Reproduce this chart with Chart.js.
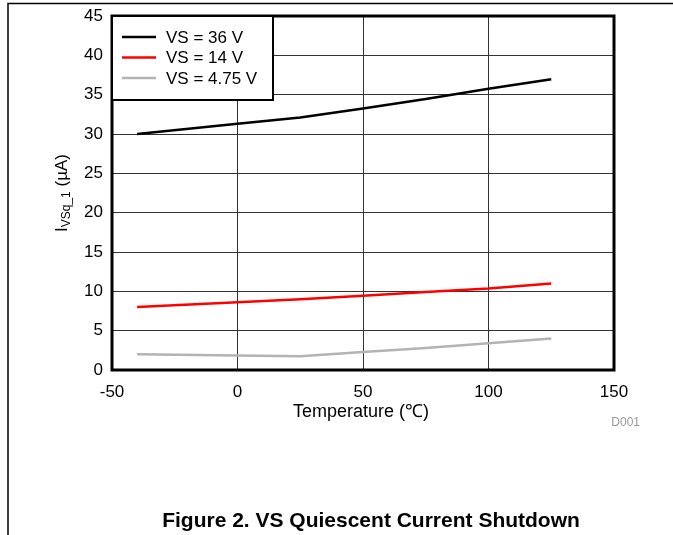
<!DOCTYPE html>
<html>
<head>
<meta charset="utf-8">
<script src="https://cdn.jsdelivr.net/npm/chart.js@4/dist/chart.umd.min.js"></script>
<style>
  html, body { margin: 0; padding: 0; background: #fff; }
  #wrap { position: relative; width: 673px; height: 535px; }
  canvas { display: block; }
</style>
</head>
<body>
<div id="wrap"><canvas id="chart" width="673" height="535"></canvas></div>
<script>
// ==== 1. Data ====
const temperature = [-40, 0, 25, 50, 75, 100, 125];
const vs36 = [30, 31.3, 32.1, 33.25, 34.45, 35.75, 36.95];
const vs14 = [8, 8.6, 9.0, 9.45, 9.9, 10.35, 11];
const vs475 = [2.0, 1.85, 1.75, 2.3, 2.8, 3.4, 4.0];

const seriesLabels = ['VS = 36 V', 'VS = 14 V', 'VS = 4.75 V'];
const seriesColors = ['#000000', '#ff0000', '#b3b3b3'];

const xTicks = [-50, 0, 50, 100, 150];
const yTicks = [0, 5, 10, 15, 20, 25, 30, 35, 40, 45];

const FONT = "'Liberation Sans', Arial, sans-serif";

function toPoints(ys) {
  return temperature.map((t, i) => ({ x: t, y: ys[i] }));
}

// ==== 2. Extra drawing: frame, border, legend, titles ====
const decorPlugin = {
  id: 'decor',
  afterDatasetsDraw(chart) {
    const ctx = chart.ctx;
    const a = chart.chartArea;
    ctx.save();

    // page frame (top and left only)
    ctx.strokeStyle = '#000';
    ctx.lineWidth = 1.5;
    ctx.beginPath();
    ctx.moveTo(8, 535);
    ctx.lineTo(8, 3.5);
    ctx.lineTo(673, 3.5);
    ctx.stroke();

    // thick plot border
    ctx.lineWidth = 3;
    ctx.strokeRect(a.left, a.top, a.right - a.left, a.bottom - a.top);

    // legend box
    const lx = a.left, ly = a.top, lw = 161, lh = 84;
    ctx.fillStyle = '#fff';
    ctx.fillRect(lx, ly, lw, lh);
    ctx.lineWidth = 2;
    ctx.strokeRect(lx, ly, lw, lh);
    ctx.font = '17px ' + FONT;
    ctx.textBaseline = 'middle';
    ctx.textAlign = 'left';
    chart.data.datasets.forEach((ds, i) => {
      const y = ly + 21 + i * 20.5;
      ctx.strokeStyle = ds.borderColor;
      ctx.lineWidth = 2.5;
      ctx.beginPath();
      ctx.moveTo(lx + 10, y);
      ctx.lineTo(lx + 44, y);
      ctx.stroke();
      ctx.fillStyle = '#000';
      ctx.fillText(ds.label, lx + 54, y + 1);
    });

    // x title
    ctx.fillStyle = '#000';
    ctx.textAlign = 'center';
    ctx.font = '18px ' + FONT;
    ctx.fillText('Temperature (\u2103)', 361, 412);

    // D001 tag
    ctx.fillStyle = '#999';
    ctx.font = '12px ' + FONT;
    ctx.textAlign = 'right';
    ctx.fillText('D001', 640, 423);

    // y title with subscript, rotated
    ctx.translate(62, 193);
    ctx.rotate(-Math.PI / 2);
    const main = '17px ' + FONT, sub = '12px ' + FONT;
    ctx.font = main;
    const wI = ctx.measureText('I').width;
    const wU = ctx.measureText(' (\u00b5A)').width;
    ctx.font = sub;
    const wS = ctx.measureText('VSq_1').width;
    let x = -(wI + wS + wU) / 2;
    ctx.fillStyle = '#000';
    ctx.textAlign = 'left';
    ctx.font = main;
    ctx.fillText('I', x, 0);
    x += wI;
    ctx.font = sub;
    ctx.fillText('VSq_1', x, 5);
    x += wS;
    ctx.font = main;
    ctx.fillText(' (\u00b5A)', x, 0);
    ctx.restore();
  }
};

// ==== 3. Chart ====
new Chart(document.getElementById('chart'), {
  type: 'line',
  data: {
    datasets: [vs36, vs14, vs475].map((ys, i) => ({
      label: seriesLabels[i],
      data: toPoints(ys),
      borderColor: seriesColors[i],
      backgroundColor: seriesColors[i],
      borderWidth: 2.5,
      pointRadius: 0,
      tension: 0
    }))
  },
  options: {
    responsive: false,
    animation: false,
    layout: { padding: { top: 16, right: 59, left: 0, bottom: 0 } },
    plugins: {
      legend: { display: false },
      tooltip: { enabled: false }
    },
    scales: {
      x: {
        type: 'linear',
        min: xTicks[0],
        max: xTicks[xTicks.length - 1],
        afterBuildTicks: s => { s.ticks = xTicks.map(v => ({ value: v })); },
        afterFit: s => { s.height = 165; s.paddingLeft = 0; s.paddingRight = 0; },
        grid: { color: '#333', lineWidth: 1, drawTicks: false },
        border: { display: false },
        ticks: { color: '#000', padding: 12, font: { family: FONT, size: 17 } }
      },
      y: {
        min: yTicks[0],
        max: yTicks[yTicks.length - 1],
        afterBuildTicks: s => { s.ticks = yTicks.map(v => ({ value: v })); },
        afterFit: s => { s.width = 112; s.paddingTop = 0; s.paddingBottom = 0; },
        grid: { color: '#333', lineWidth: 1, drawTicks: false },
        border: { display: false },
        ticks: { color: '#000', padding: 9, font: { family: FONT, size: 17 } }
      }
    }
  },
  plugins: [decorPlugin]
});
</script>
<div style="position:absolute; left:0; top:508px; width:742px; text-align:center; font: bold 21px 'Liberation Sans', Arial, sans-serif; color:#000;">Figure 2. VS Quiescent Current Shutdown</div>
</body>
</html>
